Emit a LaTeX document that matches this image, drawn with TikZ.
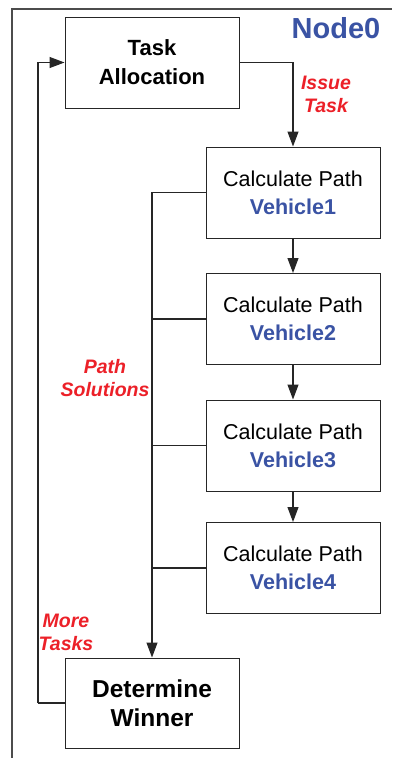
\documentclass[tikz,border=0pt]{standalone}
\usepackage{fontspec}
\setmainfont{Liberation Sans}
\usetikzlibrary{arrows.meta}
\definecolor{nodeblue}{RGB}{58,83,164}
\definecolor{labelred}{RGB}{236,32,40}
\begin{document}
\begin{tikzpicture}[x=1pt,y=-1pt,
  box/.style={draw=black!85,line width=1pt,fill=white,minimum width=174pt,inner sep=0pt,align=center},
  calcbox/.style={box,minimum height=91pt,font=\fontsize{21.5}{28}\selectfont},
  mainbox/.style={box,minimum height=91pt,font=\bfseries\fontsize{22}{29}\selectfont},
  winbox/.style={box,minimum height=90pt,font=\bfseries\fontsize{24.5}{29}\selectfont},
  veh/.style={text=nodeblue,font=\bfseries\fontsize{21.5}{28}\selectfont},
  note/.style={text=labelred,font=\bfseries\itshape\fontsize{19.5}{23}\selectfont,align=center,inner sep=0pt},
  link/.style={draw=black!85,line width=1.1pt},
  flow/.style={link,-{Triangle[length=15pt,width=11pt]}}]
\useasboundingbox (0,0) rectangle (392,758);
\fill[white] (0,0) rectangle (392,758);

% enclosing frame of the processing node
\draw[draw=black!70,line width=1.3pt] (12,758) -- (12,9) -- (392,9);
\node[text=nodeblue,font=\bfseries\fontsize{29}{32}\selectfont,inner sep=0pt] (title) at (336,28) {Node0};

% boxes
\node[mainbox] (ta) at (152,62.5) {Task\\Allocation};
\node[calcbox] (v1) at (293,192.5) {Calculate Path\\{\usefont{TU}{\rmdefault}{b}{n}\color{nodeblue}Vehicle1}};
\node[calcbox] (v2) at (293,319) {Calculate Path\\{\usefont{TU}{\rmdefault}{b}{n}\color{nodeblue}Vehicle2}};
\node[calcbox] (v3) at (293,445.5) {Calculate Path\\{\usefont{TU}{\rmdefault}{b}{n}\color{nodeblue}Vehicle3}};
\node[calcbox] (v4) at (293,568) {Calculate Path\\{\usefont{TU}{\rmdefault}{b}{n}\color{nodeblue}Vehicle4}};
\node[winbox] (dw) at (152,703) {Determine\\Winner};

% task issue and chain of path calculations
\draw[flow] (ta.east) -| (v1.north);
\draw[flow] (v1.south) -- (v2.north);
\draw[flow] (v2.south) -- (v3.north);
\draw[flow] (v3.south) -- (v4.north);

% collecting bus for path solutions
\coordinate (bus1) at (v1.west -| dw.north);
\draw[flow] (v1.west) -- (bus1) -- (dw.north);
\draw[link] (v2.west) -- (v2.west -| dw.north);
\draw[link] (v3.west) -- (v3.west -| dw.north);
\draw[link] (v4.west) -- (v4.west -| dw.north);

% feedback loop for more tasks
\coordinate (loop) at (38,703);
\draw[link] (dw.west) -- (loop);
\draw[flow] (loop) |- (ta.west);

% labels
\node[note] (issue) at (326,94) {Issue\\Task};
\node[note] (paths) at (105,378) {Path\\Solutions};
\node[note] (more) at (66,632) {More\\Tasks};
\end{tikzpicture}
\end{document}
